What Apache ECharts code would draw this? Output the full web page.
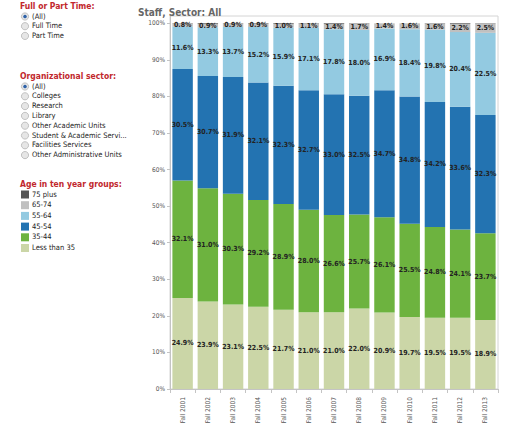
<!DOCTYPE html>
<html><head><meta charset="utf-8">
<script src="https://cdn.jsdelivr.net/npm/echarts@6/dist/echarts.min.js"></script>
<style>html,body{margin:0;padding:0;background:#fff}#c{width:509px;height:427px}</style>
</head><body><div id="c"></div>
<script>
const years = ['Fall 2001','Fall 2002','Fall 2003','Fall 2004','Fall 2005','Fall 2006','Fall 2007','Fall 2008','Fall 2009','Fall 2010','Fall 2011','Fall 2012','Fall 2013'];
const lessThan35 = [24.9,23.9,23.1,22.5,21.7,21.0,21.0,22.0,20.9,19.7,19.5,19.5,18.9];
const age35to44  = [32.1,31.0,30.3,29.2,28.9,28.0,26.6,25.7,26.1,25.5,24.8,24.1,23.7];
const age45to54  = [30.5,30.7,31.9,32.1,32.3,32.7,33.0,32.5,34.7,34.8,34.2,33.6,32.3];
const age55to64  = [11.6,13.3,13.7,15.2,15.9,17.1,17.8,18.0,16.9,18.4,19.8,20.4,22.5];
const age65to74  = [0.8,0.9,0.9,0.9,1.0,1.1,1.4,1.7,1.4,1.6,1.6,2.2,2.5];
const age75plus  = [0.1,0.2,0.1,0.1,0.2,0.1,0.2,0.1,0.0,0.0,0.1,0.2,0.1];
const yTicks = [0,10,20,30,40,50,60,70,80,90,100];

const fullPartOptions = ['(All)','Full Time','Part Time'];
const sectorOptions = ['(All)','Colleges','Research','Library','Other Academic Units','Student & Academic Servi...','Facilities Services','Other Administrative Units'];
const legendNames = ['75 plus','65-74','55-64','45-54','35-44','Less than 35'];
const colors = {'75 plus':'#555555','65-74':'#c0c0c0','55-64':'#93cae1','45-54':'#2373b1','35-44':'#6db33f','Less than 35':'#cbd6a7'};

const FONT = '"DejaVu Sans Condensed","DejaVu Sans",sans-serif';
const RED = '#c1272d';

const graphics = [];
function heading(txt, y){
  graphics.push({type:'text', left:20, top:y, style:{text:txt, font:'bold 8.5px '+FONT, fill:RED}});
}
function radio(txt, y, selected){
  graphics.push({type:'circle', shape:{cx:25, cy:y+4.5, r:3.6}, style:{fill:'#e6e6e6', stroke:'#b4b4b4', lineWidth:0.8}});
  if(selected) graphics.push({type:'circle', shape:{cx:25, cy:y+4.5, r:1.8}, style:{fill:'#2e62a8'}});
  graphics.push({type:'text', left:32, top:y, style:{text:txt, font:'7.5px '+FONT, fill:'#222'}});
}
heading('Full or Part Time:', 1);
fullPartOptions.forEach((t,i)=>radio(t, 12 + i*9.7, i===0));
heading('Organizational sector:', 71);
sectorOptions.forEach((t,i)=>radio(t, 82 + i*9.8, i===0));
heading('Age in ten year groups:', 179);
legendNames.forEach((n,i)=>{
  const y = 190 + i*10.7;
  graphics.push({type:'rect', shape:{x:21, y:y+0.5, width:8, height:8}, style:{fill:colors[n]}});
  graphics.push({type:'text', left:32, top:y, style:{text:n, font:'7.5px '+FONT, fill:'#222'}});
});

const seriesDefs = [
  ['Less than 35', lessThan35, true],
  ['35-44', age35to44, true],
  ['45-54', age45to54, true],
  ['55-64', age55to64, true],
  ['65-74', age65to74, true],
  ['75 plus', age75plus, false]
];

const chart = echarts.init(document.getElementById('c'), null, {renderer:'svg'});
chart.setOption({
  animation:false,
  title:{text:'Staff, Sector: All', left:133, top:2, textStyle:{fontFamily:FONT, fontSize:10, fontWeight:'bold', color:'#666'}},
  grid:{left:170, right:11, top:16, bottom:38, show:true, borderColor:'#d4d4d4', borderWidth:1, containLabel:false},
  xAxis:{type:'category', data:years, boundaryGap:true,
    axisLine:{lineStyle:{color:'#c4c4c4'}},
    axisTick:{show:true, length:4, lineStyle:{color:'#c4c4c4'}},
    axisLabel:{rotate:90, fontSize:6.5, fontFamily:FONT, color:'#555', margin:8, interval:0}},
  yAxis:{type:'value', min:0, max:102, interval:10,
    splitLine:{show:false},
    axisLine:{show:true, lineStyle:{color:'#c4c4c4'}},
    axisTick:{show:true, length:3, lineStyle:{color:'#c4c4c4'}, customValues: yTicks},
    axisLabel:{fontSize:6.5, fontFamily:FONT, color:'#555', margin:5,
      customValues: yTicks, formatter: v => v + '%'}},
  graphic: graphics,
  series: seriesDefs.map(([name, data, lbl]) => ({
    name, type:'bar', stack:'age', data, barCategoryGap:'19%',
    itemStyle:{color:colors[name]},
    label:{show:lbl, position:'inside', formatter: p => p.value.toFixed(1) + '%',
      fontFamily:FONT, fontSize:7, fontWeight:'bold', color:'#222'}
  }))
});
</script></body></html>
